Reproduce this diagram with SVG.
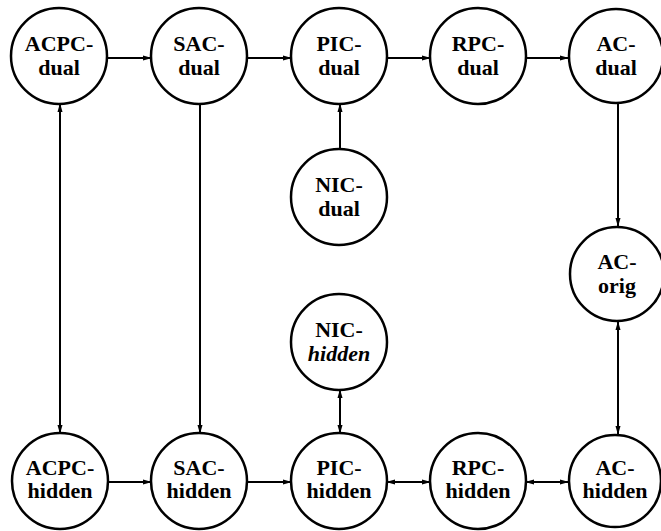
<svg xmlns="http://www.w3.org/2000/svg" width="661" height="531" viewBox="0 0 661 531">
<style>
.n circle{fill:#fff;stroke:#000;stroke-width:2.5}
.n text{font-family:"Liberation Serif","DejaVu Serif",serif;font-size:22px;font-weight:bold;text-anchor:middle;fill:#000}
.c line{stroke:#000;stroke-width:2}
</style>
<defs>
<marker id="ah" markerWidth="9" markerHeight="6" refX="8" refY="3" orient="auto-start-reverse" markerUnits="userSpaceOnUse">
<path d="M0,0.5 L9,3 L0,5.5 z" fill="#000"/>
</marker>
</defs>
<rect width="661" height="531" fill="#fff"/>
<g class="c" id="connectors">
<line x1="107" y1="58" x2="151" y2="58" marker-end="url(#ah)"/>
<line x1="247" y1="58" x2="291" y2="58" marker-end="url(#ah)"/>
<line x1="387" y1="58" x2="430" y2="58" marker-end="url(#ah)"/>
<line x1="526" y1="58" x2="568" y2="58" marker-end="url(#ah)"/>
<line x1="340" y1="149" x2="340" y2="104" marker-end="url(#ah)"/>
<line x1="618" y1="103" x2="618" y2="226" marker-end="url(#ah)"/>
<line x1="618" y1="322" x2="618" y2="434" marker-start="url(#ah)" marker-end="url(#ah)"/>
<line x1="60" y1="104" x2="60" y2="433" marker-start="url(#ah)" marker-end="url(#ah)"/>
<line x1="200" y1="104" x2="200" y2="433" marker-end="url(#ah)"/>
<line x1="340" y1="390" x2="340" y2="433" marker-start="url(#ah)" marker-end="url(#ah)"/>
<line x1="108" y1="482" x2="151" y2="482" marker-end="url(#ah)"/>
<line x1="247" y1="482" x2="291" y2="482" marker-end="url(#ah)"/>
<line x1="387" y1="482" x2="430" y2="482" marker-start="url(#ah)" marker-end="url(#ah)"/>
<line x1="526" y1="482" x2="568" y2="482" marker-start="url(#ah)" marker-end="url(#ah)"/>
</g>
<g class="n" id="acpc-dual"><circle cx="59" cy="56" r="48"/><text x="59" y="51">ACPC-</text><text x="59" y="75">dual</text></g>
<g class="n" id="sac-dual"><circle cx="199" cy="56" r="48"/><text x="199" y="51">SAC-</text><text x="199" y="75">dual</text></g>
<g class="n" id="pic-dual"><circle cx="339" cy="56" r="48"/><text x="339" y="51">PIC-</text><text x="339" y="75">dual</text></g>
<g class="n" id="rpc-dual"><circle cx="478" cy="56" r="48"/><text x="478" y="51">RPC-</text><text x="478" y="75">dual</text></g>
<g class="n" id="ac-dual"><circle cx="616" cy="56" r="47"/><text x="616" y="51">AC-</text><text x="616" y="75">dual</text></g>
<g class="n" id="nic-dual"><circle cx="339" cy="197" r="48"/><text x="339" y="192">NIC-</text><text x="339" y="216">dual</text></g>
<g class="n" id="ac-orig"><circle cx="617" cy="274" r="47"/><text x="617" y="269">AC-</text><text x="617" y="293">orig</text></g>
<g class="n" id="nic-hidden"><circle cx="339" cy="342" r="48"/><text x="339" y="337">NIC-</text><text x="339" y="361" font-style="italic">hidden</text></g>
<g class="n" id="acpc-hidden"><circle cx="60" cy="481" r="48"/><text x="60" y="475">ACPC-</text><text x="60" y="498">hidden</text></g>
<g class="n" id="sac-hidden"><circle cx="199" cy="481" r="48"/><text x="199" y="475">SAC-</text><text x="199" y="498">hidden</text></g>
<g class="n" id="pic-hidden"><circle cx="339" cy="481" r="48"/><text x="339" y="475">PIC-</text><text x="339" y="498">hidden</text></g>
<g class="n" id="rpc-hidden"><circle cx="478" cy="481" r="48"/><text x="478" y="475">RPC-</text><text x="478" y="498">hidden</text></g>
<g class="n" id="ac-hidden"><circle cx="615" cy="481" r="46"/><text x="615" y="475">AC-</text><text x="615" y="498">hidden</text></g>
</svg>
